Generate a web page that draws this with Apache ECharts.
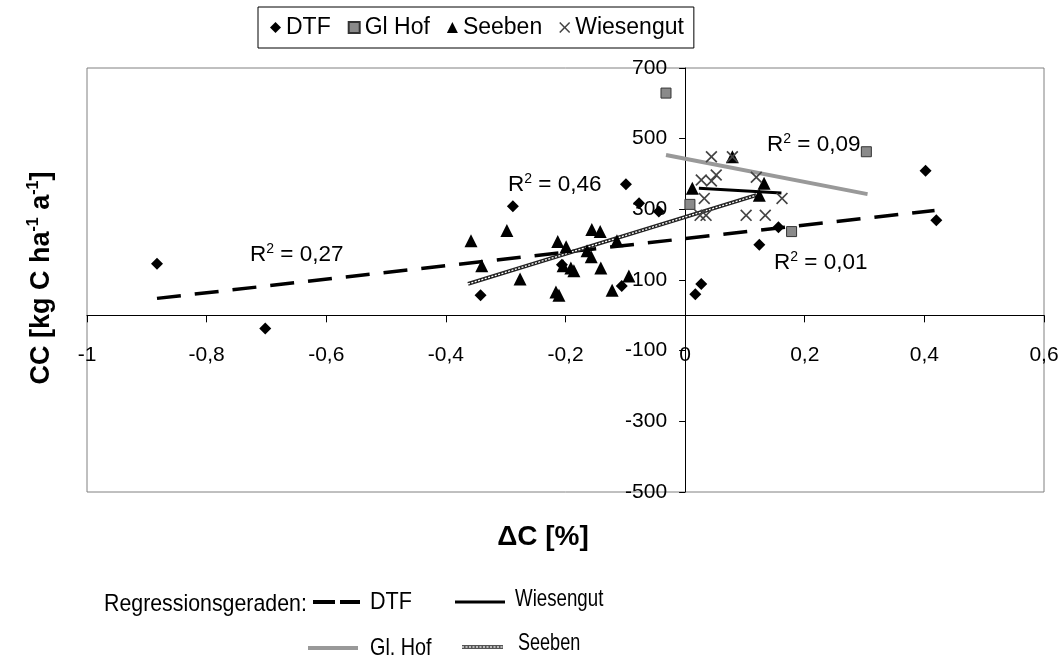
<!DOCTYPE html>
<html><head><meta charset="utf-8">
<script src="https://cdn.jsdelivr.net/npm/echarts@6/dist/echarts.min.js"></script>
<style>html,body{margin:0;padding:0;background:#fff}#c{width:1062px;height:663px}</style>
</head><body><div id="c"></div>
<script>
// ---------- data ----------
const dtf = [[-0.883,146],[-0.702,-37],[-0.342,57],[-0.288,309],[-0.206,143],[-0.106,83],[-0.099,371],
  [-0.077,317],[-0.044,294],[0.017,60],[0.027,89],[0.124,200],[0.156,249],[0.402,409],[0.420,269]];
const glHof = [[-0.032,629],[0.008,314],[0.178,237],[0.303,463]];
const seeben = [[-0.358,211],[-0.340,140],[-0.298,240],[-0.276,103],[-0.213,209],[-0.199,194],[-0.204,140],
  [-0.191,134],[-0.186,126],[-0.216,66],[-0.211,57],[-0.156,243],[-0.142,237],[-0.164,183],[-0.157,166],
  [-0.141,134],[-0.122,71],[-0.094,111],[-0.114,211],[0.012,360],[0.079,449],[0.132,374],[0.124,340]];
const wiesengut = [[0.044,449],[0.027,383],[0.044,380],[0.052,397],[0.032,331],[0.025,283],[0.035,283],
  [0.102,283],[0.134,283],[0.162,331],[0.119,391],[0.079,449]];
// regression line end points
const dtfLine = [[-0.883,48],[0.417,297]];
const glHofLine = [[-0.032,454],[0.305,343]];
const seebenLine = [[-0.363,89],[0.119,340]];
const wiesengutLine = [[0.023,360],[0.161,346]];
const r2Labels = ['0,27','0,46','0,09','0,01'];
const xTickLabels = ['-1','-0,8','-0,6','-0,4','-0,2','0','0,2','0,4','0,6'];
const yTickLabels = ['-500','-300','-100','100','300','500','700'];
const seriesNames = ['DTF','Gl Hof','Seeben','Wiesengut'];
const regNames = ['DTF','Wiesengut','Gl. Hof','Seeben'];

// ---------- chart ----------
const FONT = "'Liberation Sans', Arial, sans-serif";
const XPATH = 'path://M0,1.2 L1.2,0 L6,4.8 L10.8,0 L12,1.2 L7.2,6 L12,10.8 L10.8,12 L6,7.2 L1.2,12 L0,10.8 L4.8,6 Z';
const X_MIN = -1, X_MAX = 0.6, X_STEP = 0.2, Y_MIN = -500, Y_MAX = 700, Y_STEP = 200;
const W = 1062, H = 663;
const G = {left:87, right:18, top:68, bottom:171};
const gridW = W - G.left - G.right, gridH = H - G.top - G.bottom;
// move the axes onto the zero lines of the other axis (axis crosses at 0)
const xAxisOffset = -gridH * (0 - Y_MIN) / (Y_MAX - Y_MIN);
const yAxisOffset = -gridW * (0 - X_MIN) / (X_MAX - X_MIN);

const chart = echarts.init(document.getElementById('c'));

function r2(text, x, y) {
  return {type:'text', x:x, y:y, z:50, style:{
    text:'{r|R}{s|2}{r| = ' + text + '}',
    verticalAlign:'middle', align:'left',
    rich:{ r:{fontSize:22.5, fontFamily:FONT, fill:'#000', lineHeight:26},
           s:{fontSize:14, fontFamily:FONT, fill:'#000', lineHeight:14, verticalAlign:'top'} }
  }};
}
function legText(t, x, y, sx) {
  return {type:'text', x:x, y:y, scaleX:sx, scaleY:1.12, style:{text:t, fontSize:22, fontFamily:FONT, fill:'#000', verticalAlign:'middle'}};
}

const option = {
  animation:false,
  backgroundColor:'#fff',
  grid:{left:G.left, right:G.right, top:G.top, bottom:G.bottom, show:true, borderColor:'#808080', borderWidth:1, backgroundColor:'transparent'},
  xAxis:{type:'value', min:X_MIN, max:X_MAX, interval:X_STEP, position:'bottom', offset:xAxisOffset,
    axisLine:{show:true, onZero:false, lineStyle:{color:'#000', width:1}},
    axisTick:{show:true, length:7, lineStyle:{color:'#000'}},
    splitLine:{show:false},
    axisLabel:{margin:29, fontSize:21, color:'#000', fontFamily:FONT, showMinLabel:true, showMaxLabel:true,
      formatter:v => xTickLabels[Math.round((v - X_MIN)/X_STEP)]}},
  yAxis:{type:'value', min:Y_MIN, max:Y_MAX, interval:Y_STEP, position:'left', offset:yAxisOffset,
    axisLine:{show:true, onZero:false, lineStyle:{color:'#000', width:1}},
    axisTick:{show:true, length:6, lineStyle:{color:'#000'}},
    splitLine:{show:false},
    axisLabel:{margin:18, fontSize:21, color:'#000', fontFamily:FONT, showMinLabel:true, showMaxLabel:true,
      formatter:v => yTickLabels[Math.round((v - Y_MIN)/Y_STEP)]}},
  legend:{data:[{name:seriesNames[0], icon:'diamond'},{name:seriesNames[1], icon:'rect'},
                {name:seriesNames[2], icon:'triangle'},{name:seriesNames[3], icon:XPATH}],
    left:258, top:7, orient:'horizontal', padding:[9,10,9,12], itemGap:17, itemWidth:11, itemHeight:11,
    borderColor:'#000', borderWidth:1, selectedMode:false,
    textStyle:{fontSize:23, color:'#000', fontFamily:FONT}},
  series:[
    {type:'line', data:dtfLine, symbol:'none', silent:true, z:3, lineStyle:{color:'#000', width:3.5, type:[24,14]}},
    {type:'line', data:glHofLine, symbol:'none', silent:true, z:3, lineStyle:{color:'#999', width:4}},
    {type:'line', data:seebenLine, symbol:'none', silent:true, z:3, lineStyle:{color:'#222', width:4}},
    {type:'line', data:seebenLine, symbol:'none', silent:true, z:4, lineStyle:{color:'#fff', width:1.3, type:[2,1.5]}},
    {type:'line', data:wiesengutLine, symbol:'none', silent:true, z:3, lineStyle:{color:'#000', width:3}},
    {name:seriesNames[0], type:'scatter', data:dtf, symbol:'diamond', symbolSize:12, z:5, itemStyle:{color:'#000', opacity:1}},
    {name:seriesNames[1], type:'scatter', data:glHof, symbol:'rect', symbolSize:10, z:5, itemStyle:{color:'#8a8a8a', borderColor:'#333', borderWidth:1, opacity:1}},
    {name:seriesNames[2], type:'scatter', data:seeben, symbol:'triangle', symbolSize:13, z:5, itemStyle:{color:'#000', opacity:1}},
    {name:seriesNames[3], type:'scatter', data:wiesengut, symbol:XPATH, symbolSize:12, z:5, itemStyle:{color:'#444', opacity:1}}
  ],
  graphic:[
    r2(r2Labels[0], 250, 255), r2(r2Labels[1], 508, 185), r2(r2Labels[2], 767, 145), r2(r2Labels[3], 774, 263),
    {type:'text', x:543, y:537, style:{text:'ΔC [%]', fontSize:28, fontWeight:'bold', fontFamily:FONT, fill:'#000', align:'center', verticalAlign:'middle'}},
    {type:'text', x:42, y:278, rotation:Math.PI/2, style:{
      text:'{b|CC [kg C ha}{s|-1}{b| a}{s|-1}{b|]}', align:'center', verticalAlign:'middle',
      rich:{ b:{fontSize:27, fontWeight:'bold', fontFamily:FONT, fill:'#000', lineHeight:32},
             s:{fontSize:16, fontWeight:'bold', fontFamily:FONT, fill:'#000', lineHeight:16, verticalAlign:'top'} }}},
    // regression legend
    legText('Regressionsgeraden:', 104, 604, 0.97),
    {type:'line', shape:{x1:313, y1:602, x2:360, y2:602}, style:{stroke:'#000', lineWidth:4, lineDash:[22,5]}},
    legText(regNames[0], 370, 602, 0.98),
    {type:'line', shape:{x1:455, y1:602, x2:505, y2:602}, style:{stroke:'#000', lineWidth:3}},
    legText(regNames[1], 515, 599, 0.85),
    {type:'line', shape:{x1:308, y1:648, x2:358, y2:648}, style:{stroke:'#999', lineWidth:4}},
    legText(regNames[2], 370, 648, 0.9),
    {type:'line', shape:{x1:462, y1:647, x2:503, y2:647}, style:{stroke:'#555', lineWidth:4}},
    {type:'line', shape:{x1:462, y1:647, x2:503, y2:647}, style:{stroke:'#ddd', lineWidth:1.3, lineDash:[2,1.5]}},
    legText(regNames[3], 518, 643, 0.82)
  ]
};
chart.setOption(option);
</script></body></html>
